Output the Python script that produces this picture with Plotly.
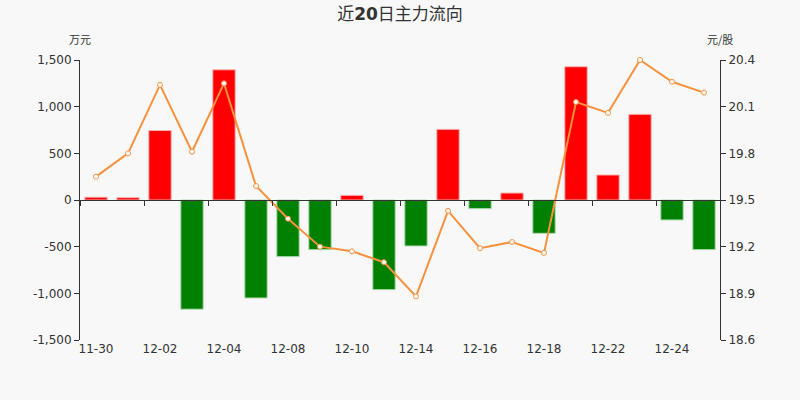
import plotly.graph_objects as go

dates = ["11-30", "12-01", "12-02", "12-03", "12-04", "12-07", "12-08", "12-09", "12-10", "12-11",
         "12-14", "12-15", "12-16", "12-17", "12-18", "12-21", "12-22", "12-23", "12-24", "12-25"]
flows = [30, 25, 745, -1170, 1395, -1050, -607, -532, 50, -961,
         -493, 757, -93, 75, -357, 1428, 268, 918, -214, -532]
prices = [19.65, 19.80, 20.24, 19.81, 20.25, 19.59, 19.38, 19.20, 19.17, 19.10,
          18.88, 19.43, 19.19, 19.23, 19.16, 20.13, 20.06, 20.40, 20.26, 20.19]
left_ticks = [-1500, -1000, -500, 0, 500, 1000, 1500]
left_ticktext = ["-1,500", "-1,000", "-500", "0", "500", "1,000", "1,500"]
right_ticks = [18.6, 18.9, 19.2, 19.5, 19.8, 20.1, 20.4]
label_dates = dates[::2]

bar_colors = ["#ff0000" if v >= 0 else "#008000" for v in flows]
bar_lines = ["#ffb3b3" if v >= 0 else "#b3dcb3" for v in flows]

FONT = "DejaVu Sans, Noto Sans CJK SC, sans-serif"
TXT = "#333333"

fig = go.Figure()
fig.add_trace(go.Bar(
    x=dates, y=flows, xaxis="x", yaxis="y",
    marker=dict(color=bar_colors, line=dict(color=bar_lines, width=1)),
    showlegend=False, hoverinfo="skip",
))
fig.add_trace(go.Scatter(
    x=dates, y=prices, xaxis="x2", yaxis="y2", mode="lines+markers", cliponaxis=False,
    line=dict(color="#f7913d", width=2),
    marker=dict(symbol="circle", size=5, color="#ffffff", line=dict(color="#f7913d", width=1)),
    showlegend=False, hoverinfo="skip",
))

fig.update_layout(
    width=800, height=400,
    margin=dict(l=80, r=80, t=60, b=60),
    paper_bgcolor="#f8f8f8", plot_bgcolor="#f8f8f8",
    font=dict(family=FONT, color=TXT, size=12),
    bargap=0.3,
    title=dict(text="近<b>20</b>日主力流向", x=0.5, xanchor="center", y=1 - 14 / 400, yanchor="middle",
               font=dict(size=17, color=TXT, family="DejaVu Sans, Noto Sans CJK SC")),
    xaxis=dict(type="category", categoryorder="array", categoryarray=dates,
               range=[-0.5, len(dates) - 0.5], showline=False, showgrid=False, zeroline=False,
               ticks="", tickmode="array", tickvals=label_dates, ticktext=label_dates,
               tickfont=dict(size=12, color=TXT)),
    xaxis2=dict(type="category", categoryorder="array", categoryarray=dates, overlaying="x",
                anchor="free", position=0.5, range=[-0.5, len(dates) - 0.5],
                showline=True, linecolor=TXT, linewidth=1, showgrid=False, zeroline=False,
                ticks="outside", ticklen=5, tickcolor=TXT, tickson="boundaries",
                tickmode="linear", tick0=0, dtick=2, showticklabels=False),
    yaxis=dict(range=[-1500, 1500], tickmode="array", tickvals=left_ticks, ticktext=left_ticktext,
               showline=True, linecolor=TXT, linewidth=1, ticks="outside", ticklen=5, tickcolor=TXT,
               showgrid=False, zeroline=False, tickfont=dict(size=12, color=TXT)),
    yaxis2=dict(range=[18.6, 20.4], tickmode="array", tickvals=right_ticks,
                ticktext=[f"{v:.1f}" for v in right_ticks], overlaying="y", side="right", anchor="x2",
                showline=True, linecolor=TXT, linewidth=1, ticks="outside", ticklen=5, tickcolor=TXT,
                showgrid=False, zeroline=False, tickfont=dict(size=12, color=TXT)),
    annotations=[
        dict(text="万元", x=80, y=39, xref="paper", yref="paper", showarrow=False,
             font=dict(size=11, color=TXT, family="Noto Sans CJK SC"), xanchor="center", yanchor="middle"),
        dict(text="元/股", x=720, y=39, xref="paper", yref="paper", showarrow=False,
             font=dict(size=11, color=TXT, family="Noto Sans CJK SC"), xanchor="center", yanchor="middle"),
    ],
)
# convert annotation pixel positions into paper fractions
pw, ph = 800 - 160, 400 - 120
for a in fig.layout.annotations:
    a.x = (a.x - 80) / pw
    a.y = (400 - 60 - a.y) / ph

fig.write_html("out.html", config={"displayModeBar": False},
               post_script="document.body.style.margin='0';document.body.style.background='#f8f8f8';")
